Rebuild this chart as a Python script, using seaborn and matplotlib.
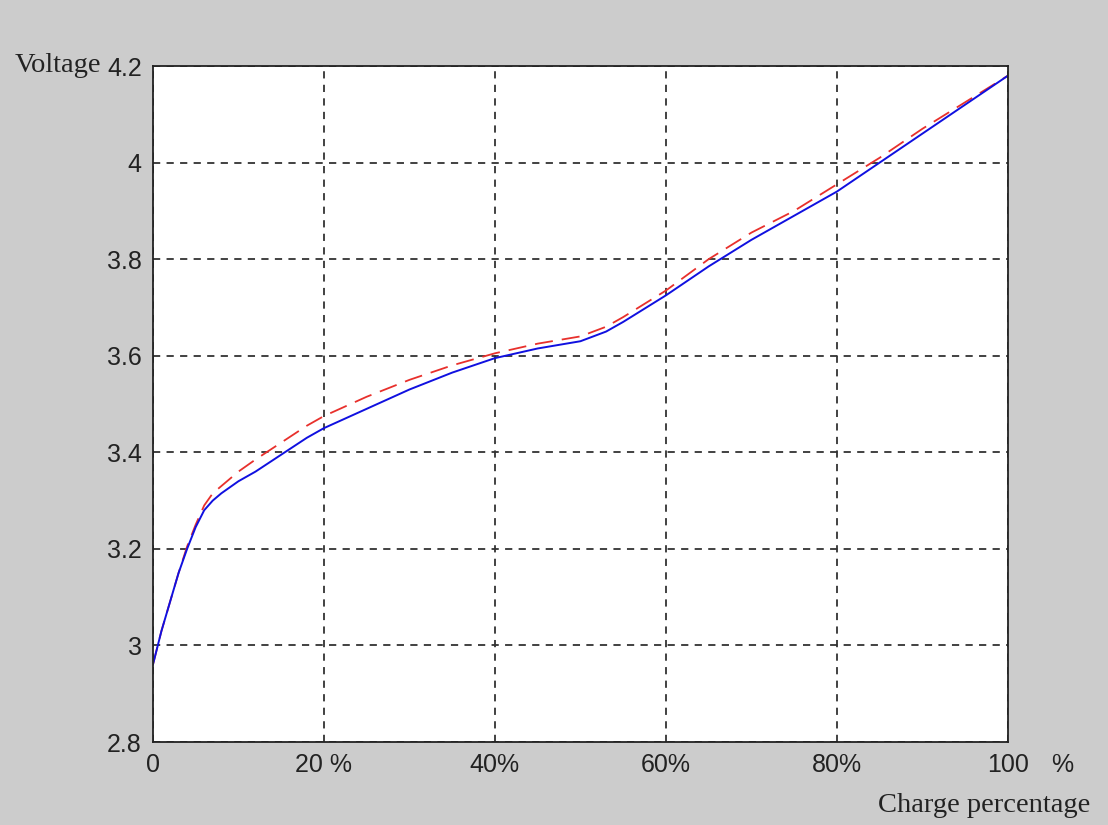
import numpy as np
import pandas as pd
import matplotlib
matplotlib.use('Agg')
import matplotlib.pyplot as plt
import matplotlib.transforms as mtransforms
import seaborn as sns

sns.set_style("white")

# data
charge   = [0, 1, 2, 3, 4, 5, 6, 7, 8, 10, 12, 15, 18, 20, 25, 30, 35, 40, 45, 50,
            53, 55, 60, 65, 70, 75, 80, 85, 90, 95, 100]
measured = [2.96, 3.03, 3.09, 3.15, 3.20, 3.245, 3.28, 3.30, 3.315, 3.34, 3.36, 3.395,
            3.43, 3.45, 3.49, 3.53, 3.565, 3.595, 3.615, 3.63, 3.65, 3.67, 3.725,
            3.785, 3.84, 3.89, 3.94, 4.00, 4.06, 4.12, 4.18]
model    = [2.96, 3.03, 3.09, 3.15, 3.205, 3.25, 3.29, 3.315, 3.33, 3.36, 3.385, 3.42,
            3.455, 3.475, 3.515, 3.55, 3.58, 3.605, 3.625, 3.64, 3.66, 3.68, 3.735,
            3.80, 3.855, 3.90, 3.955, 4.01, 4.07, 4.125, 4.18]

xticks      = [0, 20, 40, 60, 80, 100]
xticklabels = ['0', '20 %', '40%', '60%', '80%', '100']
yticks      = [2.8, 3.0, 3.2, 3.4, 3.6, 3.8, 4.0, 4.2]
yticklabels = ['2.8', '3', '3.2', '3.4', '3.6', '3.8', '4', '4.2']

df = pd.DataFrame({'charge': charge, 'measured': measured, 'model': model})

fig = plt.figure(figsize=(11.08, 8.25), dpi=100, facecolor='#cccccc')
ax = fig.add_axes([0.138, 0.1006, 0.7717, 0.8194])
ax.set_facecolor('white')

sns.lineplot(data=df, x='charge', y='model', ax=ax, color='#e8302c',
             linewidth=1.3)
ax.lines[-1].set_dashes([10, 5])
sns.lineplot(data=df, x='charge', y='measured', ax=ax, color='#1010e0',
             linewidth=1.4)

ax.set_xlim(0, 100)
ax.set_ylim(2.8, 4.2)
ax.set_xticks(xticks)
ax.set_yticks(yticks)
ax.set_xticklabels(xticklabels, fontsize=18, family='Liberation Sans', color='#222222')
ax.set_yticklabels(yticklabels, fontsize=18, family='Liberation Sans', color='#222222')
ax.set_xlabel('')
ax.set_ylabel('')

# nudge the x labels like in the original
offsets = [0, 12, 5, 0, 10, 0]
for lab, dx in zip(ax.get_xticklabels(), offsets):
    lab.set_transform(lab.get_transform() +
                      mtransforms.ScaledTranslation(dx / 100, -0.02, fig.dpi_scale_trans))

ax.grid(True, color='#333333', linestyle=(0, (4, 3.5)), linewidth=1.3)
ax.tick_params(axis='both', direction='in', length=5, width=1, color='black', pad=8)
for s in ax.spines.values():
    s.set_color('#222222')
    s.set_linewidth(1.3)

fig.text(15 / 1108, 1 - 66 / 825, 'Voltage', fontsize=20.5, family='Liberation Serif',
         ha='left', va='center', color='#222222')
fig.text(1062 / 1108, 1 - 765 / 825, '%', fontsize=18, family='Liberation Sans',
         ha='center', va='center', color='#222222')
fig.text(1090 / 1108, 1 - 805 / 825, 'Charge percentage', fontsize=20.5,
         family='Liberation Serif', ha='right', va='center', color='#222222')

fig.savefig('out.png', dpi=100, facecolor=fig.get_facecolor())
